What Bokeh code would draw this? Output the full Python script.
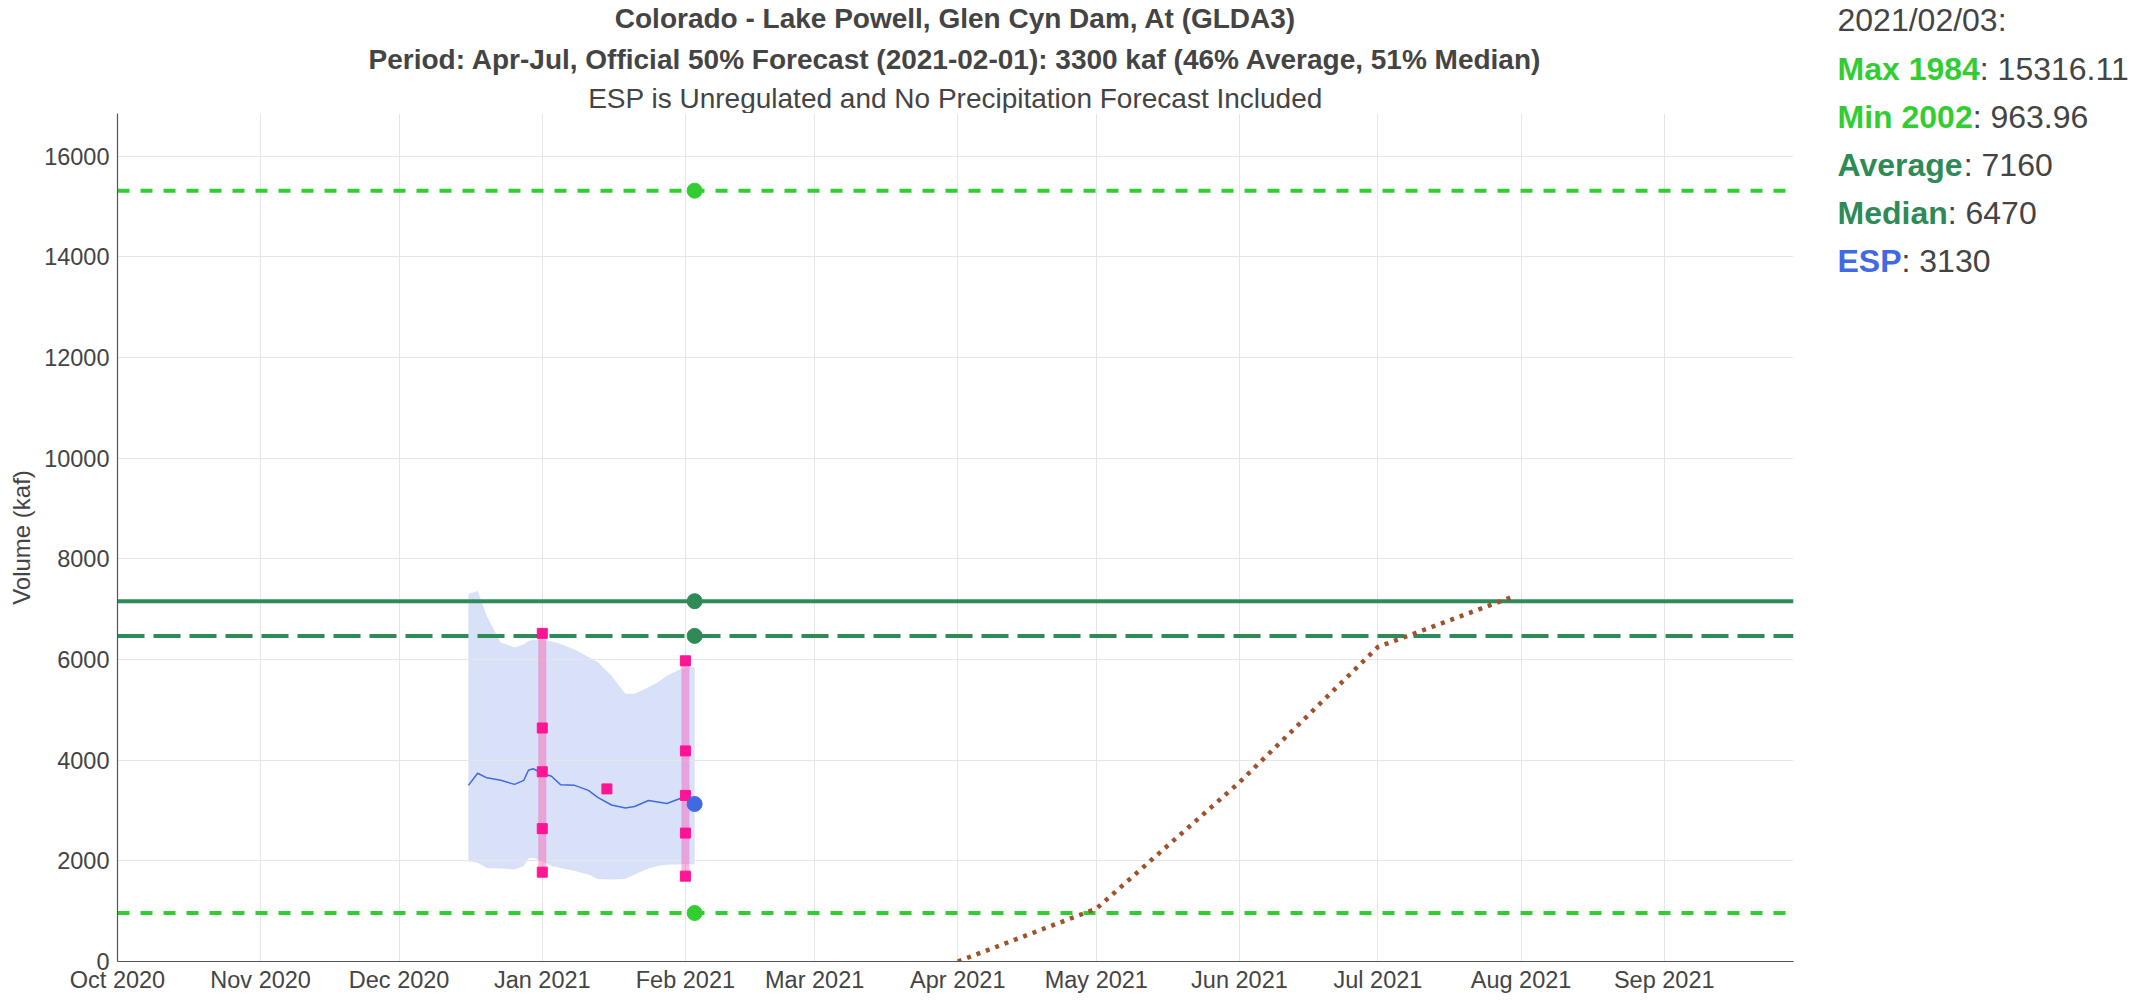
import pandas as pd
from bokeh.plotting import figure
from bokeh.layouts import row, column
from bokeh.models import Range1d, Span, MonthsTicker, FixedTicker, DatetimeTickFormatter
from bokeh.core.properties import value
from bokeh.embed import file_html
from bokeh.resources import INLINE

# ---------------- data ----------------
stat_date = "2021-02-03"
max_year, max_val = 1984, 15316.11
min_year, min_val = 2002, 963.96
avg_val = 7160
med_val = 6470
esp_val = 3130

band_dates = ["2020-12-16", "2020-12-18", "2020-12-20", "2020-12-23", "2020-12-26", "2020-12-28",
              "2020-12-29", "2020-12-30", "2021-01-01", "2021-01-03", "2021-01-05", "2021-01-08",
              "2021-01-11", "2021-01-13", "2021-01-16", "2021-01-19", "2021-01-21", "2021-01-24",
              "2021-01-26", "2021-01-28", "2021-01-31", "2021-02-03"]
band_high = [7300, 7360, 6860, 6340, 6240, 6300, 6370, 6390, 6400, 6360, 6310, 6200,
             6050, 5950, 5680, 5320, 5320, 5450, 5550, 5680, 5810, 5850]
band_low = [1990, 1960, 1860, 1850, 1830, 1900, 2050, 2060, 1990, 1900, 1860, 1800,
            1730, 1640, 1630, 1640, 1730, 1850, 1900, 1920, 1930, 1930]

trace_dates = ["2020-12-16", "2020-12-18", "2020-12-20", "2020-12-23", "2020-12-26", "2020-12-28",
               "2020-12-29", "2020-12-30", "2021-01-01", "2021-01-03", "2021-01-05", "2021-01-08",
               "2021-01-11", "2021-01-13", "2021-01-16", "2021-01-19", "2021-01-21", "2021-01-24",
               "2021-01-26", "2021-01-28", "2021-02-01"]
trace_vals = [3500, 3740, 3650, 3600, 3520, 3600, 3800, 3830, 3740, 3680, 3510, 3500,
              3400, 3260, 3110, 3050, 3080, 3200, 3170, 3140, 3280]

fcst_dates = ["2021-01-01", "2021-02-01"]
fcst_values = [[6520, 4640, 3770, 2640, 1775],
               [5975, 4184, 3300, 2552, 1696]]
mid_date = "2021-01-15"
mid_val = 3430

obs_dates = ["2021-04-01", "2021-05-01", "2021-06-01", "2021-07-01", "2021-07-30"]
obs_vals = [0, 1050, 3560, 6250, 7240]

y_ticks = [0, 2000, 4000, 6000, 8000, 10000, 12000, 14000, 16000]
y_top = 16850
x_start, x_end = "2020-10-01", "2021-09-29"

title_lines = ["Colorado - Lake Powell, Glen Cyn Dam, At (GLDA3)",
               "Period: Apr-Jul, Official 50% Forecast (2021-02-01): 3300 kaf (46% Average, 51% Median)",
               "ESP is Unregulated and No Precipitation Forecast Included"]

# ---------------- styling ----------------
FONT = "Liberation Sans"
TXT = "#444444"
LIME = "#32CD32"
SEA = "#2E8B57"
ROYAL = "#4169E1"
PINK = "#FF1493"
BROWN = "#A0522D"

dt = pd.to_datetime

LEFT_W = 1800
TITLE_H = 113
TOTAL_H = 1002
ANN_W = 344


def text_panel(w, h):
    f = figure(width=w, height=h, output_backend="svg", toolbar_location=None,
               x_range=Range1d(0, w), y_range=Range1d(h, 0),
               x_axis_location=None, y_axis_location=None,
               min_border_left=0, min_border_right=0, min_border_top=0, min_border_bottom=0)
    f.outline_line_color = None
    f.grid.visible = False
    return f


# ---------------- main plot ----------------
p = figure(width=LEFT_W, height=TOTAL_H - TITLE_H, x_axis_type="datetime", output_backend="svg",
           toolbar_location=None,
           x_range=Range1d(dt(x_start), dt(x_end)), y_range=Range1d(0, y_top),
           min_border_left=117, min_border_right=7, min_border_top=0, min_border_bottom=41)
p.outline_line_color = None
p.xgrid.grid_line_color = "#e6e6e6"
p.ygrid.grid_line_color = "#e6e6e6"

p.xaxis.ticker = MonthsTicker(months=list(range(12)))
p.xaxis.formatter = DatetimeTickFormatter(months="%b %Y", days="%b %Y", years="%b %Y")
p.yaxis.ticker = FixedTicker(ticks=y_ticks)
for ax in (p.xaxis[0], p.yaxis[0]):
    ax.major_tick_line_color = None
    ax.minor_tick_line_color = None
    ax.major_tick_out = 0
    ax.axis_line_color = "#555555"
    ax.axis_line_width = 1.2
    ax.major_label_text_font = FONT
    ax.major_label_text_font_size = "23.5px"
    ax.major_label_text_color = TXT
p.yaxis.major_label_standoff = 8
p.xaxis.major_label_standoff = 5
p.yaxis.axis_label = "Volume (kaf)"
p.yaxis.axis_label_text_font = FONT
p.yaxis.axis_label_text_font_size = "24px"
p.yaxis.axis_label_text_font_style = "normal"
p.yaxis.axis_label_text_color = TXT
p.yaxis.axis_label_standoff = 6

# band
band = p.varea(x=dt(band_dates), y1=band_low, y2=band_high, fill_color=ROYAL, fill_alpha=0.2)
band.level = "underlay"

# horizontal statistic lines
for val, col, dash in [(max_val, LIME, "12 11"), (min_val, LIME, "12 11"),
                       (avg_val, SEA, "solid"), (med_val, SEA, "27 9")]:
    sp = Span(location=val, dimension="width", line_color=col, line_width=4, line_dash=dash)
    sp.level = "underlay"
    p.add_layout(sp)

# forecast ranges (pink)
lows = [min(v) for v in fcst_values]
highs = [max(v) for v in fcst_values]
p.segment(x0=dt(fcst_dates), y0=lows, x1=dt(fcst_dates), y1=highs,
          line_color=PINK, line_alpha=0.3, line_width=8)

# ESP trace
p.line(dt(trace_dates), trace_vals, line_color=ROYAL, line_width=1.5)

# pink squares
sq_x, sq_y = [], []
for d, vals in zip(fcst_dates, fcst_values):
    for v in vals:
        sq_x.append(d)
        sq_y.append(v)
sq_x.append(mid_date)
sq_y.append(mid_val)
p.scatter(dt(sq_x), sq_y, marker="square", size=10, color=PINK)

# observed cumulative
p.line(dt(obs_dates), obs_vals, line_color=BROWN, line_width=4.5, line_dash="4 6")

# stat dots
p.scatter(dt([stat_date] * 4), [max_val, min_val, avg_val, med_val], size=15,
          color=[LIME, LIME, SEA, SEA])
p.scatter(dt([stat_date]), [esp_val], size=15, color=ROYAL)

# ---------------- title panel ----------------
t = text_panel(LEFT_W, TITLE_H)
t.text(x=[900, 900], y=[18, 59], text=title_lines[:2], text_font=value(FONT),
       text_font_size="28px", text_font_style="bold", text_color=TXT,
       text_align="center", text_baseline="middle")
t.text(x=[900], y=[98], text=title_lines[2:], text_font=value(FONT),
       text_font_size="28px", text_color=TXT, text_align="center", text_baseline="middle")

# ---------------- annotation panel ----------------
BOLD = {" ": 278, "M": 833, "a": 556, "x": 556, "i": 278, "n": 611, "A": 722, "v": 556,
        "e": 556, "r": 389, "g": 611, "d": 611, "E": 667, "S": 667, "P": 667}
for c in "0123456789":
    BOLD[c] = 556


def bold_width(s, px):
    return sum(BOLD.get(c, 600) for c in s) * px / 1000.0


ANN = 32
a = text_panel(ANN_W, TOTAL_H)
ax0 = 37
rows = [(f"Max {max_year}", LIME, f"{max_val:.2f}"),
        (f"Min {min_year}", LIME, f"{min_val:.2f}"),
        ("Average", SEA, f"{avg_val}"),
        ("Median", SEA, f"{med_val}"),
        ("ESP", ROYAL, f"{esp_val}")]
a.text(x=[ax0], y=[19], text=[pd.Timestamp(stat_date).strftime("%Y/%m/%d") + ":"],
       text_font=value(FONT), text_font_size=f"{ANN}px", text_color=TXT,
       text_baseline="middle")
ys = [68 + 48 * i for i in range(len(rows))]
a.text(x=[ax0] * len(rows), y=ys, text=[r[0] for r in rows], text_color=[r[1] for r in rows],
       text_font=value(FONT), text_font_size=f"{ANN}px", text_font_style="bold",
       text_baseline="middle")
a.text(x=[ax0 + bold_width(r[0], ANN) for r in rows], y=ys, text=[": " + r[2] for r in rows],
       text_font=value(FONT), text_font_size=f"{ANN}px", text_color=TXT,
       text_baseline="middle")

layout = row(column(t, p, spacing=0), a, spacing=0)
open("out.html", "w").write(file_html(layout, INLINE))
